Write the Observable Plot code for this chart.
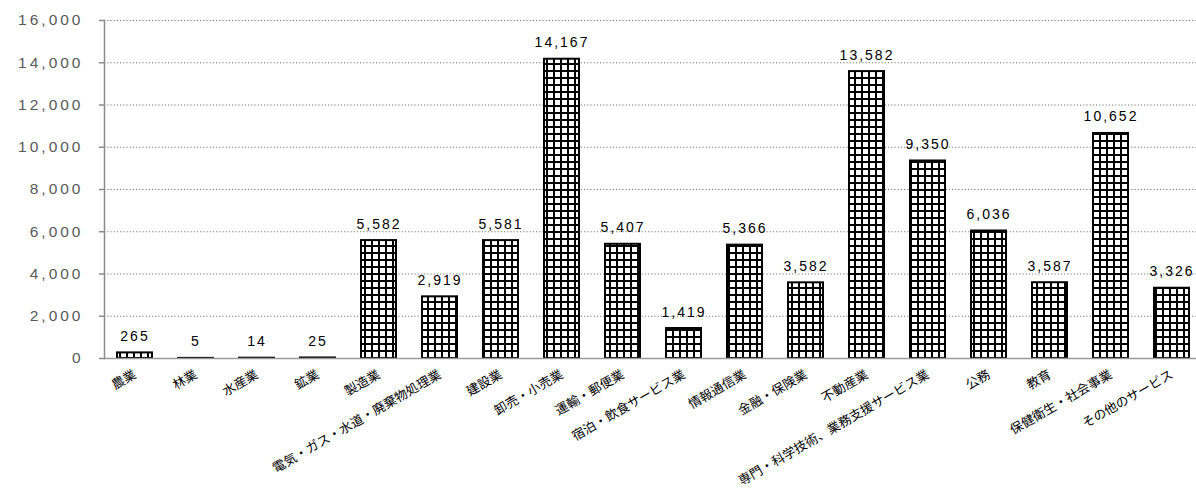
<!DOCTYPE html>
<html>
<head>
<meta charset="utf-8">
<script src="https://cdn.jsdelivr.net/npm/d3@7"></script>
<script src="https://cdn.jsdelivr.net/npm/@observablehq/plot@0.6"></script>
<style>
  body { margin: 0; background: #fff; }
</style>
</head>
<body>
<div id="chart"></div>
<script>
// Industries (x categories)
const industries = [
  "農業", "林業", "水産業", "鉱業", "製造業",
  "電気・ガス・水道・廃棄物処理業", "建設業", "卸売・小売業", "運輸・郵便業",
  "宿泊・飲食サービス業", "情報通信業", "金融・保険業", "不動産業",
  "専門・科学技術、業務支援サービス業", "公務", "教育", "保健衛生・社会事業",
  "その他のサービス"
];

// Value per industry
const values = [
  265, 5, 14, 25, 5582,
  2919, 5581, 14167, 5407,
  1419, 5366, 3582, 13582,
  9350, 6036, 3587, 10652,
  3326
];

// Y-axis tick values
const yTicks = [0, 2000, 4000, 6000, 8000, 10000, 12000, 14000, 16000];

const data = industries.map((industry, i) => ({industry, value: values[i]}));

// Grid-hatch fill used for the bars
const hatchDefs = () => {
  const defs = d3.create("svg:defs");
  const p = defs.append("pattern")
    .attr("id", "grid-hatch")
    .attr("patternUnits", "userSpaceOnUse")
    .attr("width", 7)
    .attr("height", 7);
  p.append("rect").attr("width", 7).attr("height", 7).attr("fill", "#fff");
  p.append("path")
    .attr("d", "M0,1H7M1,0V7")
    .attr("stroke", "#000")
    .attr("stroke-width", 2)
    .attr("fill", "none");
  return defs.node();
};

const chart = Plot.plot({
  width: 1196,
  height: 492,
  marginTop: 20,
  marginBottom: 134,
  marginLeft: 104,
  marginRight: 0,
  style: {
    fontFamily: "'Liberation Sans', Arial, 'Noto Sans CJK JP', sans-serif",
    background: "#fff",
    overflow: "hidden"
  },
  x: {
    domain: industries,
    range: [103.45, 1203.25],
    paddingInner: 0.42,
    paddingOuter: 0.21,
    label: null
  },
  y: {domain: [0, 16000], label: null},
  marks: [
    hatchDefs,
    Plot.gridY(yTicks.filter(d => d > 0), {
      stroke: "#7a7a7a", strokeOpacity: 1, strokeWidth: 1.2, strokeDasharray: "1.2,2"
    }),
    Plot.barY(data, {
      x: "industry", y: "value",
      fill: "url(#grid-hatch)", stroke: "#000", strokeWidth: 2
    }),
    Plot.ruleY([0], {stroke: "#9a9a9a", strokeWidth: 1.5}),
    Plot.frame({anchor: "left", stroke: "#8a8a8a", strokeWidth: 1.5}),
    Plot.axisY(yTicks, {
      tickSize: 5, tickPadding: 16, stroke: "#8a8a8a", strokeWidth: 1.5,
      fill: "#595959", fontSize: 15.5, label: null
    }),
    Plot.axisX({
      tickSize: 0, tickRotate: -30, tickPadding: 15,
      fontSize: 12.8, fill: "#000", label: null,
      fontFamily: "'Noto Sans CJK JP', sans-serif"
    }),
    Plot.text(data, {
      x: "industry", y: "value",
      text: d => d.value.toLocaleString("en-US"),
      lineAnchor: "bottom", dy: -12, fontSize: 14, fill: "#000"
    })
  ]
});

// Widen the letter spacing of the numeric labels
d3.select(chart).selectAll("[aria-label='y-axis tick label'] text").style("letter-spacing", "3px");
d3.select(chart).selectAll("[aria-label='text'] text").style("letter-spacing", "2px");

document.getElementById("chart").append(chart);
</script>
</body>
</html>
